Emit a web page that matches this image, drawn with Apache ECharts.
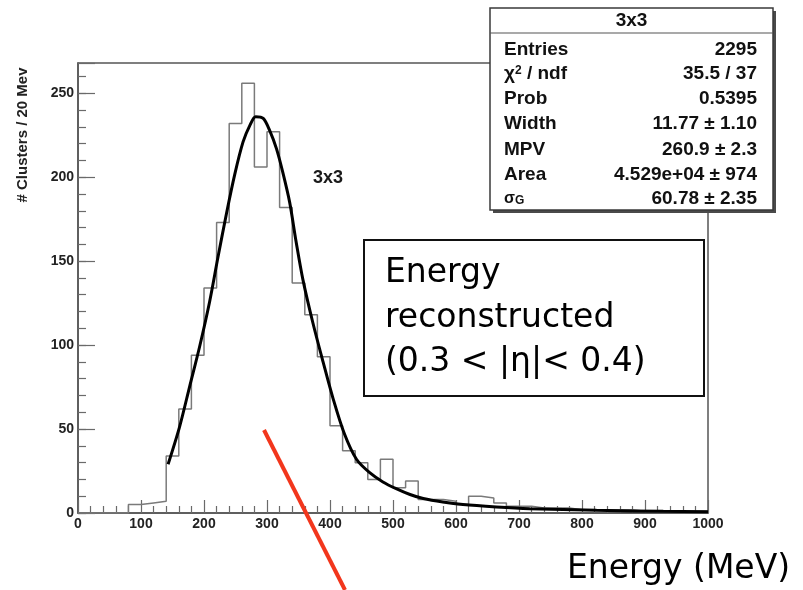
<!DOCTYPE html>
<html>
<head>
<meta charset="utf-8">
<script src="https://cdn.jsdelivr.net/npm/echarts@6/dist/echarts.min.js"></script>
<style>
  html, body { margin: 0; padding: 0; background: #ffffff; }
  #chart { width: 803px; height: 590px; }
</style>
</head>
<body>
<div id="chart"></div>
<script>
// Cluster energy histogram, 20 MeV bins (lower bin edges in MeV)
const binEdges = [0, 20, 40, 60, 80, 100, 120, 140, 160, 180, 200, 220, 240, 260, 280, 300,
  320, 340, 360, 380, 400, 420, 440, 460, 480, 500, 520, 540, 560, 580, 600, 620, 640, 660,
  680, 700, 720, 740, 760, 780, 800, 820, 840, 860, 880, 900, 920, 940, 960, 980];
const binCounts = [0, 0, 0, 0, 5, 6, 7, 34, 62, 94, 134, 173, 232, 256, 206, 227,
  182, 137, 118, 93, 52, 37, 30, 20, 32, 15, 19, 8, 8, 7, 5, 10, 9, 6,
  4, 4, 3, 3, 3, 2, 2, 2, 2, 2, 1, 1, 1, 1, 1, 1];
const histEnd = 1000;

// Landau (x) Gauss fit curve, sampled
const fitEnergy = [143, 161, 177, 193, 209, 222, 236, 249, 262, 273, 282, 294, 304, 315, 325,
  336, 346, 357, 373, 389, 405, 423, 442, 463, 484, 505, 527, 548, 579, 611, 664, 717, 823, 929, 1000];
const fitValue = [29, 51, 75, 99, 126, 152, 179, 202, 221, 231, 236, 235, 228, 217, 203,
  185, 162, 139, 113, 90, 68, 47, 32, 24, 18.5, 14.5, 11, 8.6, 6.5, 5, 3.6, 2.6, 1.6, 1, 0.8];

// Axis tick labels
const xTickLabels = [0, 100, 200, 300, 400, 500, 600, 700, 800, 900, 1000];
const yTickLabels = [0, 50, 100, 150, 200, 250];

// Fit statistics panel
const statTitle = '3x3';
const statNames = ['Entries', '{t|χ}{sup|2}{t| / ndf}', 'Prob', 'Width', 'MPV', 'Area', '{sg|σ}{sub|G}'];
const statValues = ['2295', '35.5 / 37', '0.5395', '11.77 ± 1.10', '260.9 ± 2.3', '4.529e+04 ± 974', '60.78 ± 2.35'];

const noteLines = ['Energy', 'reconstructed', '(0.3 < |η|< 0.4)'];
const xTitle = 'Energy (MeV)';
const yTitle = '# Clusters / 20 Mev';
const histLabel = '3x3';

const histPoints = binEdges.map((e, i) => [e, binCounts[i]]);
histPoints.push([histEnd, binCounts[binCounts.length - 1]]);
const fitPoints = fitEnergy.map((e, i) => [e, fitValue[i]]);

const ROOT_FONT = '"Liberation Sans", Arial, sans-serif';
const NOTE_FONT = '"DejaVu Sans", sans-serif';
const tickStyle = { color: '#6a6a6a', width: 1.2 };

const chart = echarts.init(document.getElementById('chart'), null, { renderer: 'canvas' });

const graphics = [];
// y-axis title
graphics.push({
  type: 'text', x: 23, y: 135, rotation: Math.PI / 2, z: 50,
  style: { text: yTitle, font: 'bold 15px ' + ROOT_FONT, fill: '#222',
           textAlign: 'center', textVerticalAlign: 'middle' }
});
// histogram name in the frame
graphics.push({
  type: 'text', x: 313, y: 178, z: 50,
  style: { text: histLabel, font: 'bold 18px ' + ROOT_FONT, fill: '#1a1a1a',
           textAlign: 'left', textVerticalAlign: 'middle' }
});
// statistics panel
const sb = { x: 490, y: 8, w: 283, h: 202 };
graphics.push({ type: 'rect', z: 60, shape: { x: sb.x + 3, y: sb.y + 3, width: sb.w, height: sb.h },
  style: { fill: '#4a4a4a' } });
graphics.push({ type: 'rect', z: 61, shape: { x: sb.x, y: sb.y, width: sb.w, height: sb.h },
  style: { fill: '#ffffff', stroke: '#3a3a3a', lineWidth: 1.5 } });
graphics.push({ type: 'line', z: 62, shape: { x1: sb.x, y1: 33, x2: sb.x + sb.w, y2: 33 },
  style: { stroke: '#555', lineWidth: 1.2 } });
graphics.push({ type: 'text', z: 63, x: sb.x + sb.w / 2, y: 21,
  style: { text: statTitle, font: 'bold 19px ' + ROOT_FONT, fill: '#111',
           textAlign: 'center', textVerticalAlign: 'middle' } });
const rowY = [50, 74, 99, 124, 150, 175, 199];
statNames.forEach((name, i) => {
  graphics.push({ type: 'text', z: 63, x: 504, y: rowY[i],
    style: { text: name, font: 'bold 19px ' + ROOT_FONT, fill: '#111',
             textAlign: 'left', textVerticalAlign: 'middle',
             rich: {
               t: { font: 'bold 19px ' + ROOT_FONT, fill: '#111' },
               sup: { font: 'bold 12px ' + ROOT_FONT, fill: '#111', verticalAlign: 'top' },
               sg: { font: 'bold 16px ' + ROOT_FONT, fill: '#111', verticalAlign: 'top' },
               sub: { font: 'bold 12px ' + ROOT_FONT, fill: '#111', verticalAlign: 'bottom' }
             } } });
  graphics.push({ type: 'text', z: 63, x: 757, y: rowY[i],
    style: { text: statValues[i], font: 'bold 19px ' + ROOT_FONT, fill: '#111',
             textAlign: 'right', textVerticalAlign: 'middle' } });
});
// annotation box
graphics.push({ type: 'rect', z: 70, shape: { x: 364, y: 240, width: 340, height: 156 },
  style: { fill: '#ffffff', stroke: '#111', lineWidth: 2 } });
const noteY = [273, 318, 362];
noteLines.forEach((line, i) => {
  graphics.push({ type: 'text', z: 71, x: 385, y: noteY[i],
    style: { text: line, font: '33px ' + NOTE_FONT, fill: '#000',
             textAlign: 'left', textVerticalAlign: 'middle' } });
});
// x-axis title
graphics.push({ type: 'text', z: 71, x: 567, y: 569,
  style: { text: xTitle, font: '33px ' + NOTE_FONT, fill: '#000',
           textAlign: 'left', textVerticalAlign: 'middle' } });
// red pointer stroke
graphics.push({ type: 'line', z: 72, shape: { x1: 264, y1: 430, x2: 345, y2: 590 },
  style: { stroke: '#f2361c', lineWidth: 4, lineCap: 'butt' } });

const option = {
  animation: false,
  backgroundColor: '#ffffff',
  grid: { left: 78, right: 95, top: 63, bottom: 77, show: true,
          borderColor: '#555', borderWidth: 1.5, backgroundColor: 'transparent' },
  xAxis: {
    type: 'value', min: 0, max: 1000, interval: 100,
    axisLine: { show: true, lineStyle: { color: '#555', width: 1.5 } },
    axisTick: { show: true, inside: true, length: 13, lineStyle: tickStyle },
    minorTick: { show: true, splitNumber: 5, length: 7, lineStyle: tickStyle },
    splitLine: { show: false },
    axisLabel: { margin: 4, color: '#222', fontSize: 14, fontWeight: 'bold', fontFamily: ROOT_FONT,
                 formatter: v => xTickLabels.includes(v) ? String(v) : '' }
  },
  yAxis: [
    {
      type: 'value', min: 0, max: 268, interval: 10,
      axisLine: { show: true, lineStyle: { color: '#555', width: 1.5 } },
      axisTick: { show: true, inside: true, length: 8, lineStyle: tickStyle },
      splitLine: { show: false },
      axisLabel: { margin: 4, color: '#222', fontSize: 14, fontWeight: 'bold', fontFamily: ROOT_FONT,
                   showMaxLabel: false,
                   formatter: v => yTickLabels.includes(v) ? String(v) : '' }
    },
    {
      type: 'value', min: 0, max: 268, interval: 50, position: 'left', offset: 0,
      axisLine: { show: false },
      axisTick: { show: true, inside: true, length: 17, lineStyle: tickStyle },
      splitLine: { show: false },
      axisLabel: { show: false }
    }
  ],
  series: [
    {
      name: 'histogram', type: 'line', step: 'end', data: histPoints,
      showSymbol: false, symbol: 'none', z: 3,
      lineStyle: { color: '#7a7a7a', width: 1.5 }
    },
    {
      name: 'fit', type: 'line', data: fitPoints, smooth: 0.3,
      showSymbol: false, symbol: 'none', z: 4,
      lineStyle: { color: '#000', width: 3 }
    }
  ],
  graphic: { elements: graphics }
};

chart.setOption(option);
</script>
</body>
</html>
